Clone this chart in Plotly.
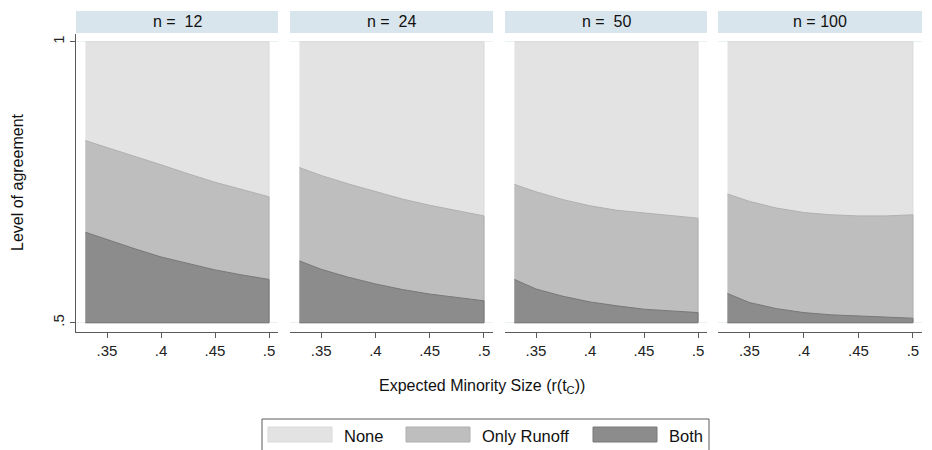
import plotly.graph_objects as go

W, H = 932, 450

# ---- data ----
PANEL_LABELS = ["n =  12", "n =  24", "n =  50", "n = 100"]
X_VALUES = [0.33, 0.35, 0.375, 0.40, 0.425, 0.45, 0.475, 0.50]
NONE_TOP = [1.0, 1.0, 1.0, 1.0, 1.0, 1.0, 1.0, 1.0]
RUNOFF_TOP = [
    [0.824, 0.812, 0.797, 0.781, 0.765, 0.750, 0.737, 0.724],
    [0.776, 0.762, 0.747, 0.733, 0.720, 0.709, 0.699, 0.690],
    [0.746, 0.733, 0.719, 0.708, 0.700, 0.695, 0.690, 0.686],
    [0.729, 0.716, 0.704, 0.696, 0.692, 0.690, 0.690, 0.692],
]
BOTH_TOP = [
    [0.661, 0.648, 0.632, 0.617, 0.605, 0.594, 0.585, 0.577],
    [0.610, 0.595, 0.581, 0.569, 0.559, 0.551, 0.545, 0.539],
    [0.577, 0.560, 0.547, 0.537, 0.530, 0.524, 0.521, 0.518],
    [0.552, 0.536, 0.525, 0.518, 0.514, 0.512, 0.510, 0.508],
]
BASE = 0.5
X_TICKS = [0.35, 0.40, 0.45, 0.50]
X_TICKTEXT = [".35", ".4", ".45", ".5"]
Y_TICKS = [0.5, 1.0]
Y_TICKTEXT = [".5", "1"]
SERIES = ["None", "Only Runoff", "Both"]

# ---- style ----
FONT = "Arial, Liberation Sans, sans-serif"
FILLS = {"None": "#E3E3E3", "Only Runoff": "#BEBEBE", "Both": "#8C8C8C"}
EDGES = {"None": "#D9D9D9", "Only Runoff": "#B0B0B0", "Both": "#787878"}
HEADER = "#D9E5EC"
AXIS = "#5A5A5A"
GRID = "#EAF2F3"

PANEL_PX = [(76, 278), (290, 493), (505, 707), (718, 922)]
Y_TOP_PX, Y_BOT_PX = 33.5, 331.7
HDR_TOP_PX, HDR_BOT_PX = 11, 33
X_RANGE = [0.3213, 0.5083]
Y_RANGE = [0.484, 1.0146]


def fx(px):
    return px / W


def fy(py):
    return 1 - py / H


fig = go.Figure()
shapes = []
annotations = []

for i, (x0, x1) in enumerate(PANEL_PX):
    idx = "" if i == 0 else str(i + 1)
    xa, ya = "x" + idx, "y" + idx
    layers = [("None", NONE_TOP), ("Only Runoff", RUNOFF_TOP[i]), ("Both", BOTH_TOP[i])]
    for name, top in layers:
        xs = X_VALUES + X_VALUES[::-1]
        ys = list(top) + [BASE] * len(X_VALUES)
        fig.add_trace(go.Scatter(
            x=xs, y=ys, mode="lines", fill="toself",
            fillcolor=FILLS[name], line=dict(color=EDGES[name], width=1),
            name=name, showlegend=False, hoverinfo="skip",
            xaxis=xa, yaxis=ya,
        ))
    xkey = "xaxis" + idx
    ykey = "yaxis" + idx
    fig.layout[xkey] = dict(
        domain=[fx(x0), fx(x1)], range=X_RANGE, anchor=ya,
        tickvals=X_TICKS, ticktext=X_TICKTEXT, ticks="outside", ticklen=5,
        tickcolor=AXIS, tickwidth=1, showline=True, linecolor=AXIS, linewidth=1,
        showgrid=False, zeroline=False, fixedrange=True,
        tickfont=dict(family=FONT, size=15, color="#222"),
    )
    fig.layout[ykey] = dict(
        domain=[fy(Y_BOT_PX), fy(Y_TOP_PX)], range=Y_RANGE, anchor=xa,
        tickvals=Y_TICKS, ticktext=Y_TICKTEXT,
        ticks="outside" if i == 0 else "", ticklen=5, tickcolor=AXIS,
        showticklabels=(i == 0), tickangle=-90,
        showline=(i == 0), linecolor=AXIS, linewidth=1,
        showgrid=True, gridcolor=GRID, gridwidth=1, zeroline=False,
        fixedrange=True, tickfont=dict(family=FONT, size=15, color="#222"),
    )
    # header strip
    shapes.append(dict(type="rect", xref="paper", yref="paper",
                       x0=fx(x0), x1=fx(x1), y0=fy(HDR_BOT_PX), y1=fy(HDR_TOP_PX),
                       fillcolor=HEADER, line=dict(width=0), layer="below"))
    annotations.append(dict(text=PANEL_LABELS[i], xref="paper", yref="paper",
                            x=fx((x0 + x1) / 2), y=fy((HDR_TOP_PX + HDR_BOT_PX) / 2),
                            showarrow=False, xanchor="center", yanchor="middle",
                            font=dict(family=FONT, size=16, color="#111")))

# axis titles
annotations.append(dict(text="Level of agreement", xref="paper", yref="paper",
                        x=fx(18), y=fy(182), textangle=-90, showarrow=False,
                        xanchor="center", yanchor="middle",
                        font=dict(family=FONT, size=16, color="#111")))
annotations.append(dict(text="Expected Minority Size (r(t<sub>C</sub>))", xref="paper", yref="paper",
                        x=fx(482), y=fy(386), showarrow=False,
                        xanchor="center", yanchor="middle",
                        font=dict(family=FONT, size=16, color="#111")))

# legend (drawn)
shapes.append(dict(type="rect", xref="paper", yref="paper",
                   x0=fx(262), x1=fx(709), y0=fy(462), y1=fy(419),
                   fillcolor="white", line=dict(color=AXIS, width=1)))
leg_sw = [268, 406, 593]
for name, sx in zip(SERIES, leg_sw):
    shapes.append(dict(type="rect", xref="paper", yref="paper",
                       x0=fx(sx), x1=fx(sx + 64), y0=fy(442), y1=fy(427),
                       fillcolor=FILLS[name], line=dict(color=EDGES[name], width=1)))
    annotations.append(dict(text=name, xref="paper", yref="paper",
                            x=fx(sx + 74), y=fy(436), showarrow=False,
                            xanchor="left", yanchor="middle",
                            font=dict(family=FONT, size=16.5, color="#111")))

fig.update_layout(
    width=W, height=H, margin=dict(l=0, r=0, t=0, b=0),
    paper_bgcolor="white", plot_bgcolor="white",
    showlegend=False, shapes=shapes, annotations=annotations,
    font=dict(family=FONT),
)

fig.write_html("out.html")
